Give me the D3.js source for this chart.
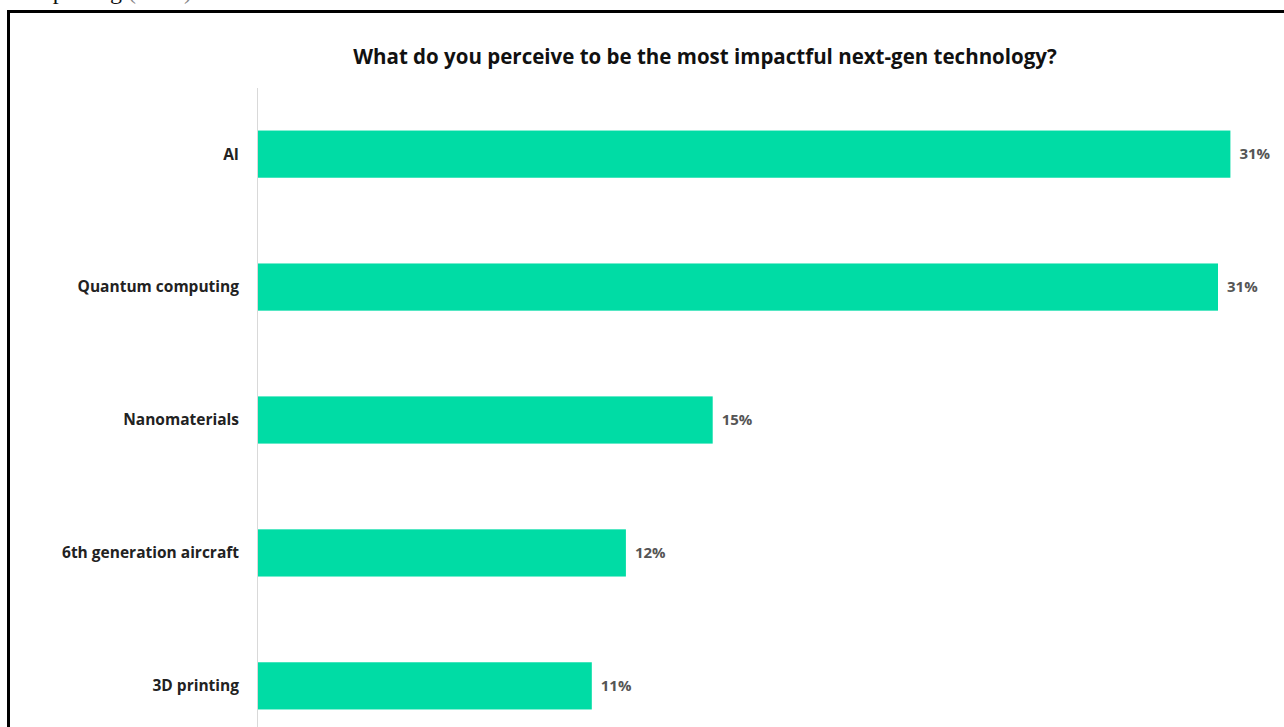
<!DOCTYPE html>
<html>
<head>
<meta charset="utf-8">
<script src="https://cdn.jsdelivr.net/npm/d3@7"></script>
<style>
  html, body { margin: 0; padding: 0; background: #fff; }
  svg { display: block; }
</style>
</head>
<body>
<svg id="chart" width="1284" height="727"></svg>
<script>
const categories = ["AI", "Quantum computing", "Nanomaterials", "6th generation aircraft", "3D printing"];
const values = [31.4, 31.0, 14.7, 11.9, 10.8];
const valueLabels = ["31%", "31%", "15%", "12%", "11%"];
const title = "What do you perceive to be the most impactful next-gen technology?";

const svg = d3.select("#chart");
const W = 1284, H = 727;

// cropped caption fragment at very top (only descenders visible, as in the source)
svg.append("text")
  .attr("x", 34).attr("y", -1)
  .attr("font-family", "Liberation Serif, serif")
  .attr("font-size", 24)
  .attr("fill", "#111")
  .text("reporting ")
  .append("tspan").attr("fill", "#888").text("(2024)");

// frame
svg.append("path")
  .attr("d", `M8.5,${H + 5} V11.5 H${W + 5}`)
  .attr("fill", "none")
  .attr("stroke", "#000")
  .attr("stroke-width", 3);

const x0 = 257;
const x = d3.scaleLinear().domain([0, 35]).range([x0, x0 + 35 * 31]);
const y = d3.scaleBand().domain(categories).range([88, 752]).paddingInner(0.645).paddingOuter(0.32);

svg.append("text")
  .attr("x", 705).attr("y", 64)
  .attr("text-anchor", "middle")
  .attr("font-family", "Open Sans, sans-serif")
  .attr("font-weight", "bold")
  .attr("font-size", 20.5)
  .attr("fill", "#111")
  .text(title);

// axis line
svg.append("line")
  .attr("x1", x0 + 0.5).attr("x2", x0 + 0.5)
  .attr("y1", 88).attr("y2", H)
  .attr("stroke", "#d9d9d9").attr("stroke-width", 1);

const data = categories.map((c, i) => ({ c, v: values[i], l: valueLabels[i] }));

svg.selectAll("rect.bar").data(data).enter().append("rect")
  .attr("class", "bar")
  .attr("x", x(0) + 1)
  .attr("y", d => y(d.c))
  .attr("width", d => x(d.v) - x(0) - 1)
  .attr("height", y.bandwidth())
  .attr("fill", "#00dca5");

svg.selectAll("text.cat").data(data).enter().append("text")
  .attr("class", "cat")
  .attr("x", 239)
  .attr("y", d => y(d.c) + y.bandwidth() / 2)
  .attr("dy", "0.35em")
  .attr("text-anchor", "end")
  .attr("font-family", "Open Sans, sans-serif")
  .attr("font-weight", "bold")
  .attr("font-size", 15.5)
  .attr("fill", "#222")
  .text(d => d.c);

svg.selectAll("text.val").data(data).enter().append("text")
  .attr("class", "val")
  .attr("x", d => x(d.v) + 9)
  .attr("y", d => y(d.c) + y.bandwidth() / 2)
  .attr("dy", "0.35em")
  .attr("font-family", "Open Sans, sans-serif")
  .attr("font-weight", "bold")
  .attr("font-size", 15)
  .attr("fill", "#555")
  .text(d => d.l);
</script>
</body>
</html>
